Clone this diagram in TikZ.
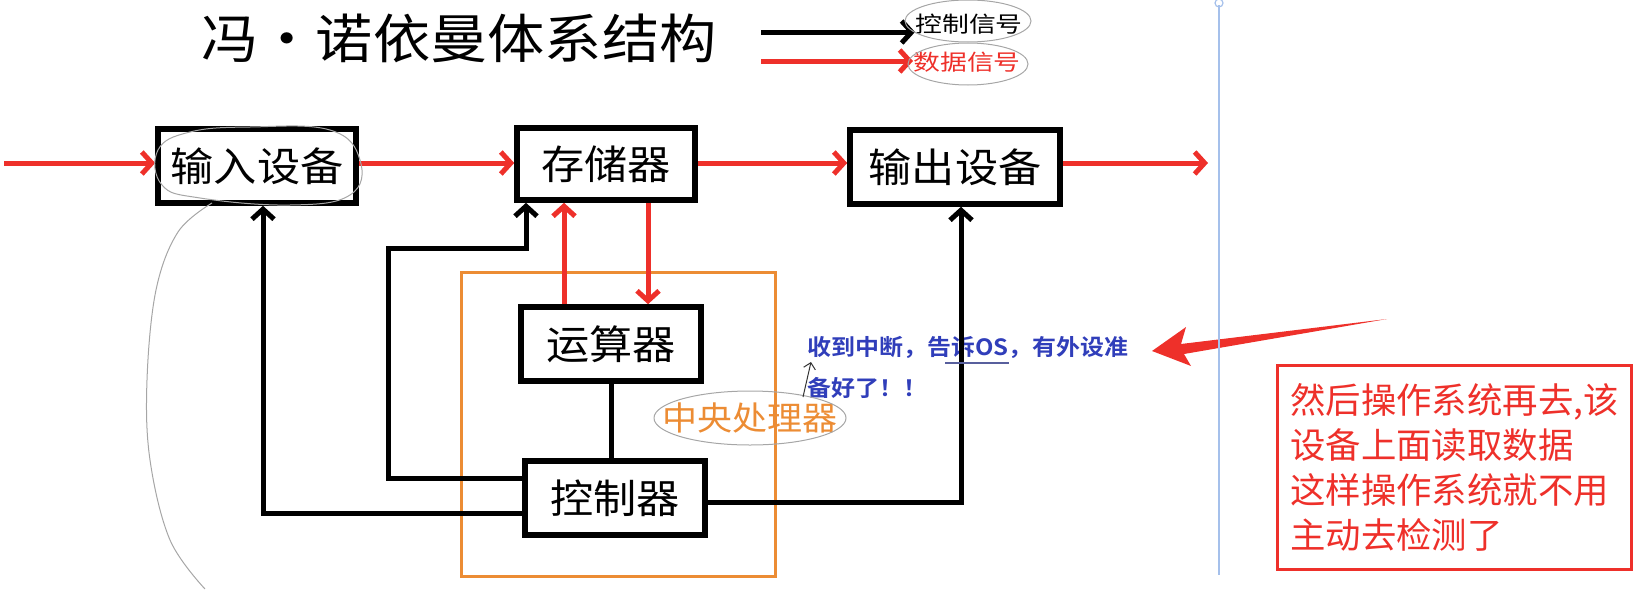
\documentclass[tikz,border=0pt]{standalone}
\usepackage{fontspec}
\usetikzlibrary{arrows.meta}
\newfontfamily\titlefont[FakeStretch=1.08]{Noto Sans CJK SC}
\newfontfamily\boxfont[FakeStretch=1.08]{Noto Sans CJK SC}
\newfontfamily\legendfont[FakeStretch=1.22]{Noto Sans CJK SC}
\newfontfamily\cpufont[FakeStretch=1.06]{Noto Sans CJK SC}
\newfontfamily\notefont[FakeStretch=1.07]{Noto Sans CJK SC Bold}
\newfontfamily\memofont{Noto Sans CJK SC}
\begin{document}
\begin{tikzpicture}[x=0.5pt, y=-0.5pt, >={Straight Barb[length=5pt,width=11pt]},
  unit/.style={draw, line width=2.8pt, inner sep=0pt, fill=white,
    font=\boxfont\fontsize{20}{24}\selectfont},
  ctrl/.style={->, line width=2.5pt},
  data/.style={->, datared, line width=2.5pt},
  label/.style={anchor=west, inner sep=0pt},
  scribble/.style={gray!70, line width=0.5pt}]

  \definecolor{datared}{RGB}{238,48,42}
  \definecolor{cpuorange}{RGB}{236,140,52}
  \definecolor{noteblue}{RGB}{48,62,186}
  \definecolor{guideblue}{RGB}{165,192,235}

  \useasboundingbox (0,0) rectangle (1642,589);

  % title and legend
  \node[label, font=\titlefont\fontsize{26.5}{30}\selectfont] (title) at (201,38) {冯・诺依曼体系结构};
  \node[label, font=\legendfont\fontsize{11}{13}\selectfont] (lgctrl) at (915,24) {控制信号};
  \node[label, text=datared, font=\legendfont\fontsize{11}{13}\selectfont] (lgdata) at (913,62) {数据信号};
  \coordinate (lgctrl0) at (761,32);
  \coordinate (lgdata0) at (761,61);
  \draw[ctrl] (lgctrl0) -- (lgctrl.west |- lgctrl0);
  \draw[data] (lgdata0) -- (lgdata.west |- lgdata0);
  \draw[scribble] (968,21) ellipse [x radius=31.5pt, y radius=10.5pt];
  \draw[scribble] (968,64) ellipse [x radius=30pt, y radius=10.5pt];

  % cpu frame
  \draw[cpuorange, line width=1.5pt] (461,272) rectangle (775,576);

  % units
  \node[unit, minimum width=99pt, minimum height=37pt] (in) at (257,166) {输入设备};
  \node[unit, minimum width=89pt, minimum height=36pt] (mem) at (606,164) {存储器};
  \node[unit, minimum width=105pt, minimum height=37pt] (out) at (955,167) {输出设备};
  \node[unit, minimum width=90pt, minimum height=37pt] (alu) at (611,344) {运算器};
  \node[unit, minimum width=90pt, minimum height=37pt] (cu) at (615,498) {控制器};

  \node[text=cpuorange, font=\cpufont\fontsize{16.5}{18}\selectfont] (cpulbl) at (750,418) {中央处理器};

  % note
  \node[label, text=noteblue, font=\notefont\fontsize{11.2}{13}\selectfont] (note1) at (807,347) {收到中断，告诉OS，有外设准};
  \node[label, text=noteblue, font=\notefont\fontsize{11.2}{13}\selectfont] (note2) at (807,388) {备好了！！};
  \fill[datared] (1152,351) -- (1186,327) -- (1181,344) -- (1387,319) -- (1184,354) -- (1191,366) -- cycle;

  % data flow
  \coordinate (src) at (4,163);
  \coordinate (sink) at (1208,163);
  \draw[data] (src) -- (in.west |- src);
  \draw[data] (in.east |- src) -- (mem.west |- src);
  \draw[data] (mem.east |- src) -- (out.west |- src);
  \draw[data] (out.east |- src) -- (sink);
  \coordinate (up) at (564,0);
  \coordinate (dn) at (648,0);
  \draw[data] (up |- alu.north) -- (up |- mem.south);
  \draw[data] (dn |- mem.south) -- (dn |- alu.north);

  % control lines
  \coordinate (lo) at (263,513);
  \coordinate (ul) at (388,478);
  \coordinate (bend) at (526,248);
  \coordinate (rt) at (961,502);
  \draw[ctrl] (cu.west |- lo) -- (lo) -- (lo |- in.south);
  \draw[ctrl] (cu.west |- ul) -- (ul) |- (bend) -- (bend |- mem.south);
  \draw[ctrl] (cu.east |- rt) -- (rt) -- (rt |- out.south);
  \draw[line width=2.5pt] (alu.south) -- (alu.south |- cu.north);

  % guide line
  \draw[guideblue, line width=1pt] (1219,5) -- (1219,575);
  \draw[guideblue, line width=0.6pt] (1219,3) circle [radius=2pt];

  % memo
  \node[draw=datared, line width=1.5pt, anchor=north west, minimum width=177pt, minimum height=102pt,
    align=left, inner sep=0pt, text=datared, font=\memofont\fontsize{17.7}{22.5}\selectfont] (memo) at (1276,364)
    {然后操作系统再去,该\\设备上面读取数据\\这样操作系统就不用\\主动去检测了};

  % hand marks
  \draw[scribble] plot[smooth cycle, tension=0.7] coordinates {(158,150) (190,132) (250,127) (330,130) (360,160) (350,195) (290,205) (200,198) (162,185)};
  \draw[scribble] plot[smooth, tension=0.6] coordinates {(212,203) (178,232) (156,290) (147,380) (150,460) (170,540) (205,589)};
  \draw[scribble] (cpulbl) ellipse [x radius=48pt, y radius=13.5pt];
  \draw[gray!40!black, line width=0.5pt, -{Straight Barb[length=3pt,width=6pt]}] (803,397) -- (811,362);
  \draw[noteblue!50!gray, line width=0.6pt] (945,363) -- (1009,363);

\end{tikzpicture}
\end{document}
